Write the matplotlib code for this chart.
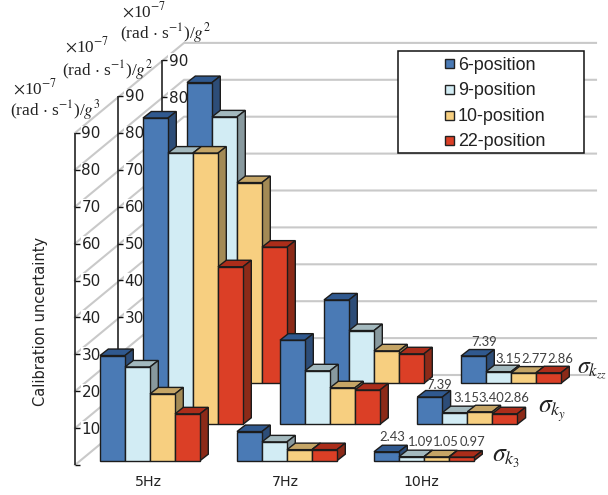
import matplotlib
matplotlib.use("Agg")
import matplotlib.pyplot as plt
from matplotlib.patches import Polygon, Rectangle

plt.rcParams['mathtext.fontset'] = 'stix'

series = ['6-position', '9-position', '10-position', '22-position']
freqs = ['5Hz', '7Hz', '10Hz']
k3_vals = [[28.5, 25.4, 18.1, 12.7], [7.9, 5.1, 3.0, 3.0], [2.43, 1.09, 1.05, 0.97]]
ky_vals = [[83.0, 73.5, 73.5, 42.7], [22.8, 14.5, 9.9, 9.3], [7.39, 3.15, 3.40, 2.86]]
kz_vals = [[81.5, 72.2, 54.4, 36.9], [22.6, 14.3, 8.8, 8.0], [7.39, 3.15, 2.77, 2.86]]
ticks = [0, 10, 20, 30, 40, 50, 60, 70, 80, 90]

front = ['#4a7ab5', '#d2ecf4', '#f7cf80', '#db3f26']
top = ['#30598f', '#a3b9be', '#c5a566', '#ab2d1a']
side = ['#2d4d78', '#88999e', '#a38a55', '#8c2a18']
edge = '#1c1c1c'

W, H = 608, 495
PX = 3.69          # pixels per unit of value
BW = 25            # bar width in pixels
DX, DY = 8.3, 6.5  # bar depth

fig = plt.figure(figsize=(W / 100, H / 100), dpi=100)
ax = fig.add_axes([0, 0, 1, 1])
ax.set_xlim(0, W)
ax.set_ylim(H, 0)
ax.axis('off')

# back wall and floor-to-wall grid
for v in ticks:
    ax.plot([75, 184, 596], [465 - PX * v, 375 - PX * v, 375 - PX * v],
            color='#c9c9c9', lw=1.5, zorder=1, solid_joinstyle='miter')

# the three value axes
axes_geo = [(162, 392.5, [90, 80]),
            (118, 428, [90, 80, 70, 60, 50, 40, 30]),
            (75, 465, [90, 80, 70, 60, 50, 40, 30, 20, 10])]
z = 2
for ax_x, y0, labelled in axes_geo:
    ax.plot([ax_x, ax_x], [y0, y0 - PX * 90], color='#111111', lw=1.1, zorder=z,
            solid_capstyle='butt')
    for v in ticks:
        y = y0 - PX * v
        ax.plot([ax_x, ax_x + 5], [y, y], color='#111111', lw=1.0, zorder=z,
                solid_capstyle='butt')
    for v in labelled:
        ax.text(ax_x + 6.5, y0 - PX * v + 1, str(v), fontsize=11, color='#222222',
                family='DejaVu Sans', va='center', ha='left', zorder=z,
                bbox=dict(facecolor='white', edgecolor='none', pad=0.5))
    z += 1


def layer(vals, starts, base, zorder):
    for group, x0 in zip(vals, starts):
        for i, v in enumerate(group):
            x = x0 + i * BW
            h = v * PX
            zz = zorder + i * 0.01
            ax.bar(x, -h, width=BW, bottom=base, align='edge', color=front[i],
                   edgecolor=edge, linewidth=1.0, zorder=zz + 0.002)
            t = base - h
            ax.add_patch(Polygon([(x, t), (x + DX, t - DY), (x + BW + DX, t - DY), (x + BW, t)],
                                 closed=True, facecolor=top[i], edgecolor=edge,
                                 linewidth=1.0, zorder=zz))
            ax.add_patch(Polygon([(x + BW, t), (x + BW + DX, t - DY),
                                  (x + BW + DX, base - DY), (x + BW, base)],
                                 closed=True, facecolor=side[i], edgecolor=edge,
                                 linewidth=1.0, zorder=zz))


layer(kz_vals, [187, 324, 461], 383.3, 6)
layer(ky_vals, [143, 280, 417.3], 424.3, 7)
layer(k3_vals, [100, 237, 374], 460.7, 8)

# data labels on the 10 Hz groups
lab = dict(fontsize=9.4, color='#404040', family='Lato', ha='center', va='center', zorder=10)
for g, xs, ys in [(kz_vals[2], [484, 508, 534, 560], [342, 359, 359, 359]),
                  (ky_vals[2], [439, 466, 491, 516], [385, 398, 398, 398]),
                  (k3_vals[2], [392, 421, 446, 472], [437, 442, 442, 442])]:
    for v, x, y in zip(g, xs, ys):
        ax.text(x, y, f'{v:.2f}', **lab)

# frequency labels
for f, x in zip(freqs, [148, 285, 421]):
    ax.text(x, 482, f, fontsize=10.2, color='#222222', family='DejaVu Sans',
            ha='center', va='center', zorder=10)

ax.text(41, 321, 'Calibration uncertainty', rotation=90, fontsize=10.5, color='#222222',
        family='DejaVu Sans', ha='center', va='center', zorder=10)

# unit labels
unit = dict(fontsize=12.4, color='#222222', family='Liberation Serif', ha='left', va='center', zorder=10)
for x, y1, x2, y2, t in [(13, 88, 10, 110, r'(rad $\cdot$ s$^{-1}$)/$g^3$'),
                         (65, 46, 62, 70, r'(rad $\cdot$ s$^{-1}$)/$g^2$'),
                         (122, 11, 120, 33, r'(rad $\cdot$ s$^{-1}$)/$g^2$')]:
    ax.text(x, y1, r'$\times$10$^{\mathrm{-7}}$', **unit)
    ax.text(x2, y2, t, **unit)

# sigma labels
for x, y, t, s in [(492, 457, r'$\sigma_{k_3}$', 18.5), (538, 411, r'$\sigma_{k_y}$', 18.5),
                   (577, 369, r'$\sigma_{k_{zz}}$', 17)]:
    ax.text(x, y, t, fontsize=s, color='#222222', ha='left', va='center', zorder=10)

# legend box with its keys
ax.add_patch(Rectangle((397.5, 51), 186, 102, facecolor='white', edgecolor='#111111',
                       linewidth=1.1, zorder=20))
for name, colour, y in zip(series, front, [63.7, 89, 115, 140]):
    ax.add_patch(Rectangle((444.5, y - 4.5), 9, 9, facecolor=colour, edgecolor='#222222',
                           linewidth=1.0, zorder=21))
    ax.text(458, y + 1.5, name, fontsize=12.9, family='Liberation Sans', color='#222222',
            ha='left', va='center', zorder=21)

fig.savefig('out.png', dpi=100)
